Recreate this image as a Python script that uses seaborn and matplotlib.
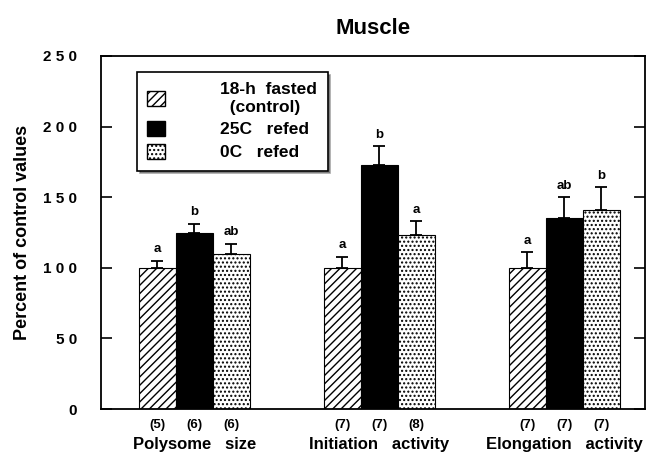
import numpy as np
import pandas as pd
import matplotlib
matplotlib.use("Agg")
import matplotlib.pyplot as plt
import seaborn as sns
from matplotlib.patches import Patch

measures = ["Polysome   size", "Initiation   activity", "Elongation   activity"]
treatments = ["18-h  fasted\n  (control)", "25C   refed", "0C   refed"]
values = [
    [100, 125, 110],
    [100, 173, 123],
    [100, 135, 141],
]
errors = [
    [5, 6, 7],
    [8, 13, 10],
    [11, 15, 16],
]
letters = [
    ["a", "b", "ab"],
    ["a", "b", "a"],
    ["a", "ab", "b"],
]
counts = [
    ["(5)", "(6)", "(6)"],
    ["(7)", "(7)", "(8)"],
    ["(7)", "(7)", "(7)"],
]

rows = []
for i, m in enumerate(measures):
    for j, t in enumerate(treatments):
        rows.append({"measure": m, "treatment": t, "value": values[i][j]})
df = pd.DataFrame(rows)

sns.set_style("ticks")
plt.rcParams["font.family"] = ["Liberation Sans", "DejaVu Sans"]
plt.rcParams["font.weight"] = "bold"
plt.rcParams["hatch.linewidth"] = 1.0
for k in ["text.color", "axes.labelcolor", "xtick.color", "ytick.color", "axes.edgecolor"]:
    plt.rcParams[k] = "black"

fig = plt.figure(figsize=(6.57, 4.53), dpi=100)
ax = fig.add_axes([0.1537, 0.0971, 0.828, 0.7793])

sns.barplot(data=df, x="measure", y="value", hue="treatment", order=measures,
            hue_order=treatments, width=0.6, ax=ax, errorbar=None, legend=False,
            palette=["white", "black", "white"], edgecolor="black", linewidth=0.8)

bars = list(ax.containers)
hatches = ["////", None, "...."]
for c, h in zip(bars, hatches):
    for p in c.patches:
        if h:
            p.set_hatch(h)
        p.set_edgecolor("black")

trans = ax.get_xaxis_transform()
for j, c in enumerate(bars):
    for i, p in enumerate(c.patches):
        xc = p.get_x() + p.get_width() / 2
        top = p.get_height()
        e = errors[i][j]
        ax.errorbar(xc, top, yerr=[[0], [e]], fmt="none", ecolor="black",
                    elinewidth=1.3, capsize=4.5, capthick=1.3)
        ax.text(xc, top + e + 4, letters[i][j], ha="center", va="bottom",
                fontsize=9.5, fontweight="bold")
        ax.text(xc, -0.045, counts[i][j], transform=trans, ha="center",
                va="center", fontsize=9.5, fontweight="bold")

for i, m in enumerate(measures):
    ax.text(i, -0.1, m, transform=trans, ha="center", va="center",
            fontsize=12, fontweight="bold")

ax.set_xlim(-0.505, 2.435)
ax.set_ylim(0, 250)
ax.set_yticks([0, 50, 100, 150, 200, 250])
ax.set_yticklabels(["0", "5 0", "1 0 0", "1 5 0", "2 0 0", "2 5 0"],
                   fontsize=11, fontweight="bold")
ax.set_xticks([])
ax.set_xlabel("")
ax.set_ylabel("Percent of control values", fontsize=13, fontweight="bold",
              labelpad=9)
ax.tick_params(axis="y", direction="in", length=8, width=1.2, right=True, pad=17)
for s in ax.spines.values():
    s.set_linewidth(1.3)
    s.set_visible(True)

ax.set_title("Muscle", fontsize=16, fontweight="bold", pad=16)

handles = [
    Patch(facecolor="white", edgecolor="black", hatch="////"),
    Patch(facecolor="black", edgecolor="black"),
    Patch(facecolor="white", edgecolor="black", hatch="...."),
]
leg = ax.legend(handles, treatments, loc="upper left", bbox_to_anchor=(0.066, 0.955),
                borderaxespad=0, frameon=True, fancybox=False, shadow=True,
                handlelength=1.0, handleheight=1.0, handletextpad=3.2,
                borderpad=0.6, labelspacing=0.35, prop={"size": 12.5, "weight": "bold"})
leg.get_frame().set_edgecolor("black")
leg.get_frame().set_linewidth(1.2)

fig.savefig("out.png", dpi=100)
